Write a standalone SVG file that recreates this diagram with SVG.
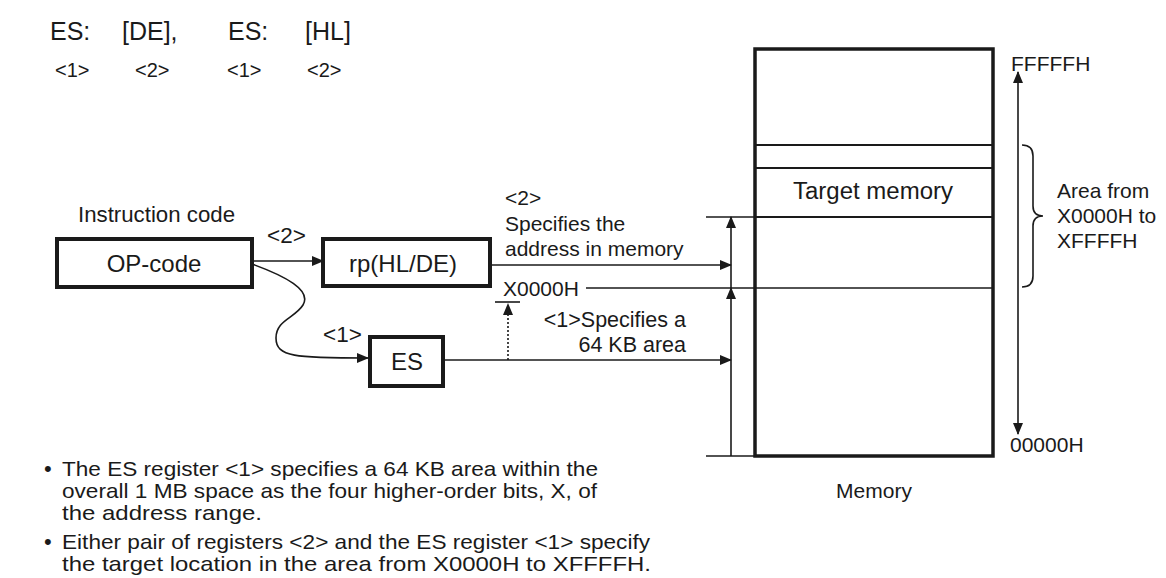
<svg xmlns="http://www.w3.org/2000/svg" width="1166" height="578" viewBox="0 0 1166 578">
<style>
text{font-family:"Liberation Sans",Arial,sans-serif;fill:#1a1a1a}
.t{font-size:21px}
.b{font-size:24px}
.n{font-size:21.5px}
.box{fill:#fff;stroke:#1a1a1a;stroke-width:4}
.ln{fill:none;stroke:#1a1a1a;stroke-width:1.6}
.thin{fill:none;stroke:#1a1a1a;stroke-width:2}
.ar{fill:none;stroke:#1a1a1a;stroke-width:1.6;marker-end:url(#ah)}
</style>
<defs>
<marker id="ah" markerUnits="userSpaceOnUse" markerWidth="12" markerHeight="10" refX="11" refY="5" orient="auto">
<path d="M0,0 L12,5 L0,10 Z" fill="#1a1a1a"/>
</marker>
<marker id="ahs" markerUnits="userSpaceOnUse" markerWidth="12" markerHeight="10" refX="1" refY="5" orient="auto">
<path d="M12,0 L0,5 L12,10 Z" fill="#1a1a1a"/>
</marker>
</defs>

<g id="syntax">
<text x="50" y="40" font-size="25">ES:</text>
<text x="122" y="40" font-size="25">[DE],</text>
<text x="228" y="40" font-size="25">ES:</text>
<text x="305" y="40" font-size="25">[HL]</text>
<text x="55" y="77" font-size="20">&lt;1&gt;</text>
<text x="135" y="77" font-size="20">&lt;2&gt;</text>
<text x="227" y="77" font-size="20">&lt;1&gt;</text>
<text x="307" y="77" font-size="20">&lt;2&gt;</text>
</g>

<g id="opcode">
<text x="78" y="222" font-size="22" textLength="157" lengthAdjust="spacingAndGlyphs">Instruction code</text>
<rect class="box" x="57" y="239" width="195" height="48"/>
<text class="b" x="154" y="272" text-anchor="middle">OP-code</text>
</g>

<g id="rp">
<rect class="box" x="323" y="239" width="167" height="47"/>
<text class="b" x="403" y="272" text-anchor="middle">rp(HL/DE)</text>
</g>

<g id="es">
<rect class="box" x="370" y="337" width="73" height="49"/>
<text class="b" x="407" y="370" text-anchor="middle">ES</text>
</g>

<g id="memory">
<rect x="755" y="49" width="238" height="407" fill="#fff" stroke="#1a1a1a" stroke-width="3.5"/>
<line class="thin" x1="755" y1="145" x2="993" y2="145"/>
<line class="thin" x1="755" y1="168" x2="993" y2="168"/>
<line class="thin" x1="755" y1="217" x2="993" y2="217"/>
<text x="873" y="199" font-size="23" text-anchor="middle" textLength="160" lengthAdjust="spacingAndGlyphs">Target memory</text>
<text class="t" x="874" y="498" text-anchor="middle">Memory</text>
</g>

<g id="range">
<text class="t" x="1011" y="71">FFFFFH</text>
<text class="t" x="1010" y="452">00000H</text>
<path class="ln" d="M1022,145 Q1033,145 1033,156 L1033,206 Q1033,216 1043,216 Q1033,216 1033,226 L1033,276 Q1033,287 1022,287"/>
<text class="t" x="1057" y="198">Area from</text>
<text class="t" x="1057" y="223">X0000H to</text>
<text class="t" x="1057" y="248">XFFFFH</text>
</g>

<g id="connectors">
<line class="ar" x1="252" y1="261" x2="323" y2="261"/>
<text x="267" y="243" font-size="22.5">&lt;2&gt;</text>
<path class="ar" d="M252,264 C285,276 312,290 303,305 C295,318 276,320 276,338 C276,357 295,358 368,358"/>
<text x="323" y="342" font-size="22.5">&lt;1&gt;</text>
<line class="ar" x1="492" y1="265" x2="731" y2="265"/>
<text class="t" x="505" y="205">&lt;2&gt;</text>
<text class="t" x="505" y="231">Specifies the</text>
<text class="t" x="505" y="256">address in memory</text>
<line class="ar" x1="443" y1="360" x2="731" y2="360"/>
<text class="n" x="686" y="327" text-anchor="end">&lt;1&gt;Specifies a</text>
<text class="n" x="686" y="352" text-anchor="end">64 KB area</text>
<text class="t" x="503" y="296">X0000H</text>
<line class="ln" x1="586" y1="288" x2="993" y2="288"/>
<line class="ln" x1="495" y1="302" x2="520" y2="302"/>
<line x1="508" y1="360" x2="508" y2="304" stroke="#1a1a1a" stroke-width="1.6" stroke-dasharray="2,2" marker-end="url(#ah)"/>
<line class="ln" x1="706" y1="217" x2="755" y2="217"/>
<line class="ln" x1="706" y1="456" x2="755" y2="456"/>
<line class="ar" x1="731" y1="288" x2="731" y2="217"/>
<line class="ar" x1="731" y1="456" x2="731" y2="288"/>
<line class="ln" x1="1018" y1="72" x2="1018" y2="434" marker-start="url(#ahs)" marker-end="url(#ah)"/>
</g>

<g id="notes">
<text x="44" y="476" font-size="22">•</text>
<text class="t" x="62" y="476" textLength="536" lengthAdjust="spacingAndGlyphs">The ES register &lt;1&gt; specifies a 64 KB area within the</text>
<text class="t" x="62" y="498" textLength="535" lengthAdjust="spacingAndGlyphs">overall 1 MB space as the four higher-order bits, X, of</text>
<text class="t" x="62" y="520" textLength="200" lengthAdjust="spacingAndGlyphs">the address range.</text>
<text x="44" y="549" font-size="22">•</text>
<text class="t" x="62" y="549" textLength="588" lengthAdjust="spacingAndGlyphs">Either pair of registers &lt;2&gt; and the ES register &lt;1&gt; specify</text>
<text class="t" x="62" y="571" textLength="589" lengthAdjust="spacingAndGlyphs">the target location in the area from X0000H to XFFFFH.</text>
</g>
</svg>
